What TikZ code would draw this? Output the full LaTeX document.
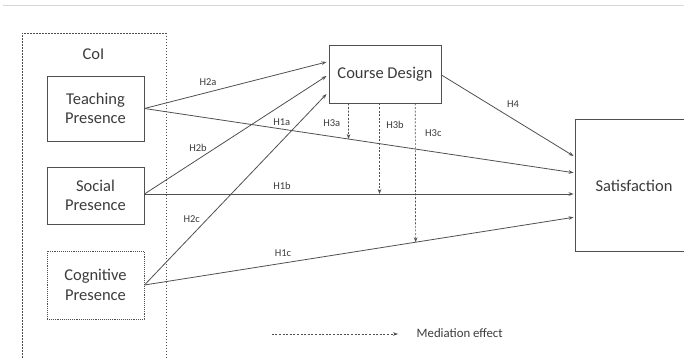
\documentclass[tikz,border=0pt]{standalone}
\usepackage{fontspec}
\setmainfont{Carlito}
\usetikzlibrary{arrows.meta,calc}
\definecolor{linec}{HTML}{505050}
\definecolor{textc}{HTML}{3C3C3C}
\tikzset{
  box/.style={draw=linec, line width=0.9pt, text=textc, font=\fontsize{16.5}{19.5}\selectfont, align=center, inner sep=0pt},
  lbl/.style={text=textc, font=\fontsize{10.5}{12}\selectfont, inner sep=0pt},
  conn/.style={draw=linec, line width=0.8pt, -{Stealth[length=5pt,width=3.6pt]}},
  med/.style={draw=linec, line width=0.7pt, dash pattern=on 2pt off 1.6pt, -{Stealth[length=5pt,width=3.6pt]}},
}
\begin{document}
\begin{tikzpicture}[x=1pt,y=-1pt]
\useasboundingbox (0,0) rectangle (684,358);
\clip (0,0) rectangle (684,358);
\fill[white] (0,0) rectangle (684,358);
% top rule
\draw[draw={rgb,255:red,216;green,216;blue,216}, line width=0.9pt] (3,5.3) -- (684,5.3);
% CoI frame
\draw[draw=linec, line width=0.8pt, dash pattern=on 1.6pt off 1.4pt] (22,400) -- (22,33.3) -- (166,33.3) -- (166,400);
\node[text=textc, font=\fontsize{16.5}{19.5}\selectfont, inner sep=0pt] (coi) at (93.5,54) {CoI};
% boxes
\node[box, minimum width=97pt, minimum height=65pt] (tp) at (95.5,108.5) {Teaching\\Presence};
\node[box, minimum width=97pt, minimum height=57pt] (sp) at (95.5,195.5) {Social\\Presence};
\node[box, draw=linec, densely dotted, minimum width=97pt, minimum height=68pt] (cp) at (95.5,285) {Cognitive\\Presence};
\node[box, minimum width=112pt, minimum height=58pt] (cd) at (385,74) {Course Design};
\node[box, minimum width=118pt, minimum height=132pt] (sa) at (634,185.7) {Satisfaction};
% endpoints
\coordinate (spE) at ($(sp.east)+(0,-1.5)$);
\coordinate (cdA) at ($(cd.west)+(-2,-12)$);
\coordinate (cdB) at ($(cd.west)+(-2,2)$);
\coordinate (cdC) at ($(cd.west)+(-2,20)$);
\coordinate (saH4) at ($(sa.west)+(-1,-29.7)$);
\coordinate (saA) at ($(sa.west)+(-1,-13)$);
\coordinate (saB) at ($(sa.west |- spE)+(-1,0)$);
\coordinate (saC) at ($(sa.west)+(-1,31.6)$);
% direct paths
\draw[conn] (tp.east) -- (cdA);
\draw[conn] (spE) -- (cdB);
\draw[conn] (cp.east) -- (cdC);
\draw[conn] (tp.east) -- (saA);
\draw[conn] (spE) -- (saB);
\draw[conn] (cp.east) -- (saC);
\draw[conn] ($(cd.east)+(0,1)$) -- (saH4);
% mediation
\coordinate (m1) at ($(cd.south west)+(20,0)$);
\coordinate (m2) at ($(cd.south west)+(51,0)$);
\coordinate (m3) at ($(cd.south west)+(86.7,0)$);
\draw[med] (m1) -- ($(tp.east)!0.4756!(saA)$);
\draw[med] (m2) -- (m2 |- spE);
\draw[med] (m3) -- ($(cp.east)!0.632!(saC)$);
% labels
\node[lbl] (l2a) at (208,82) {H2a};
\node[lbl] (l2b) at (198,148) {H2b};
\node[lbl] (l2c) at (191.7,219.3) {H2c};
\node[lbl] (l1a) at (281.7,121.7) {H1a};
\node[lbl] (l1b) at (282,186) {H1b};
\node[lbl] (l1c) at (283,252.7) {H1c};
\node[lbl] (l4) at (513,104) {H4};
\node[lbl] (l3a) at (331.7,122.7) {H3a};
\node[lbl] (l3b) at (395,125) {H3b};
\node[lbl] (l3c) at (433.3,133.3) {H3c};
% legend
\coordinate (leg1) at (271.7,334);
\coordinate (leg2) at (398,334);
\draw[med] (leg1) -- (leg2);
\node[text=textc, font=\fontsize{12.8}{15}\selectfont, inner sep=0pt, anchor=west] (legt) at (416.5,333) {Mediation effect};
\end{tikzpicture}
\end{document}
